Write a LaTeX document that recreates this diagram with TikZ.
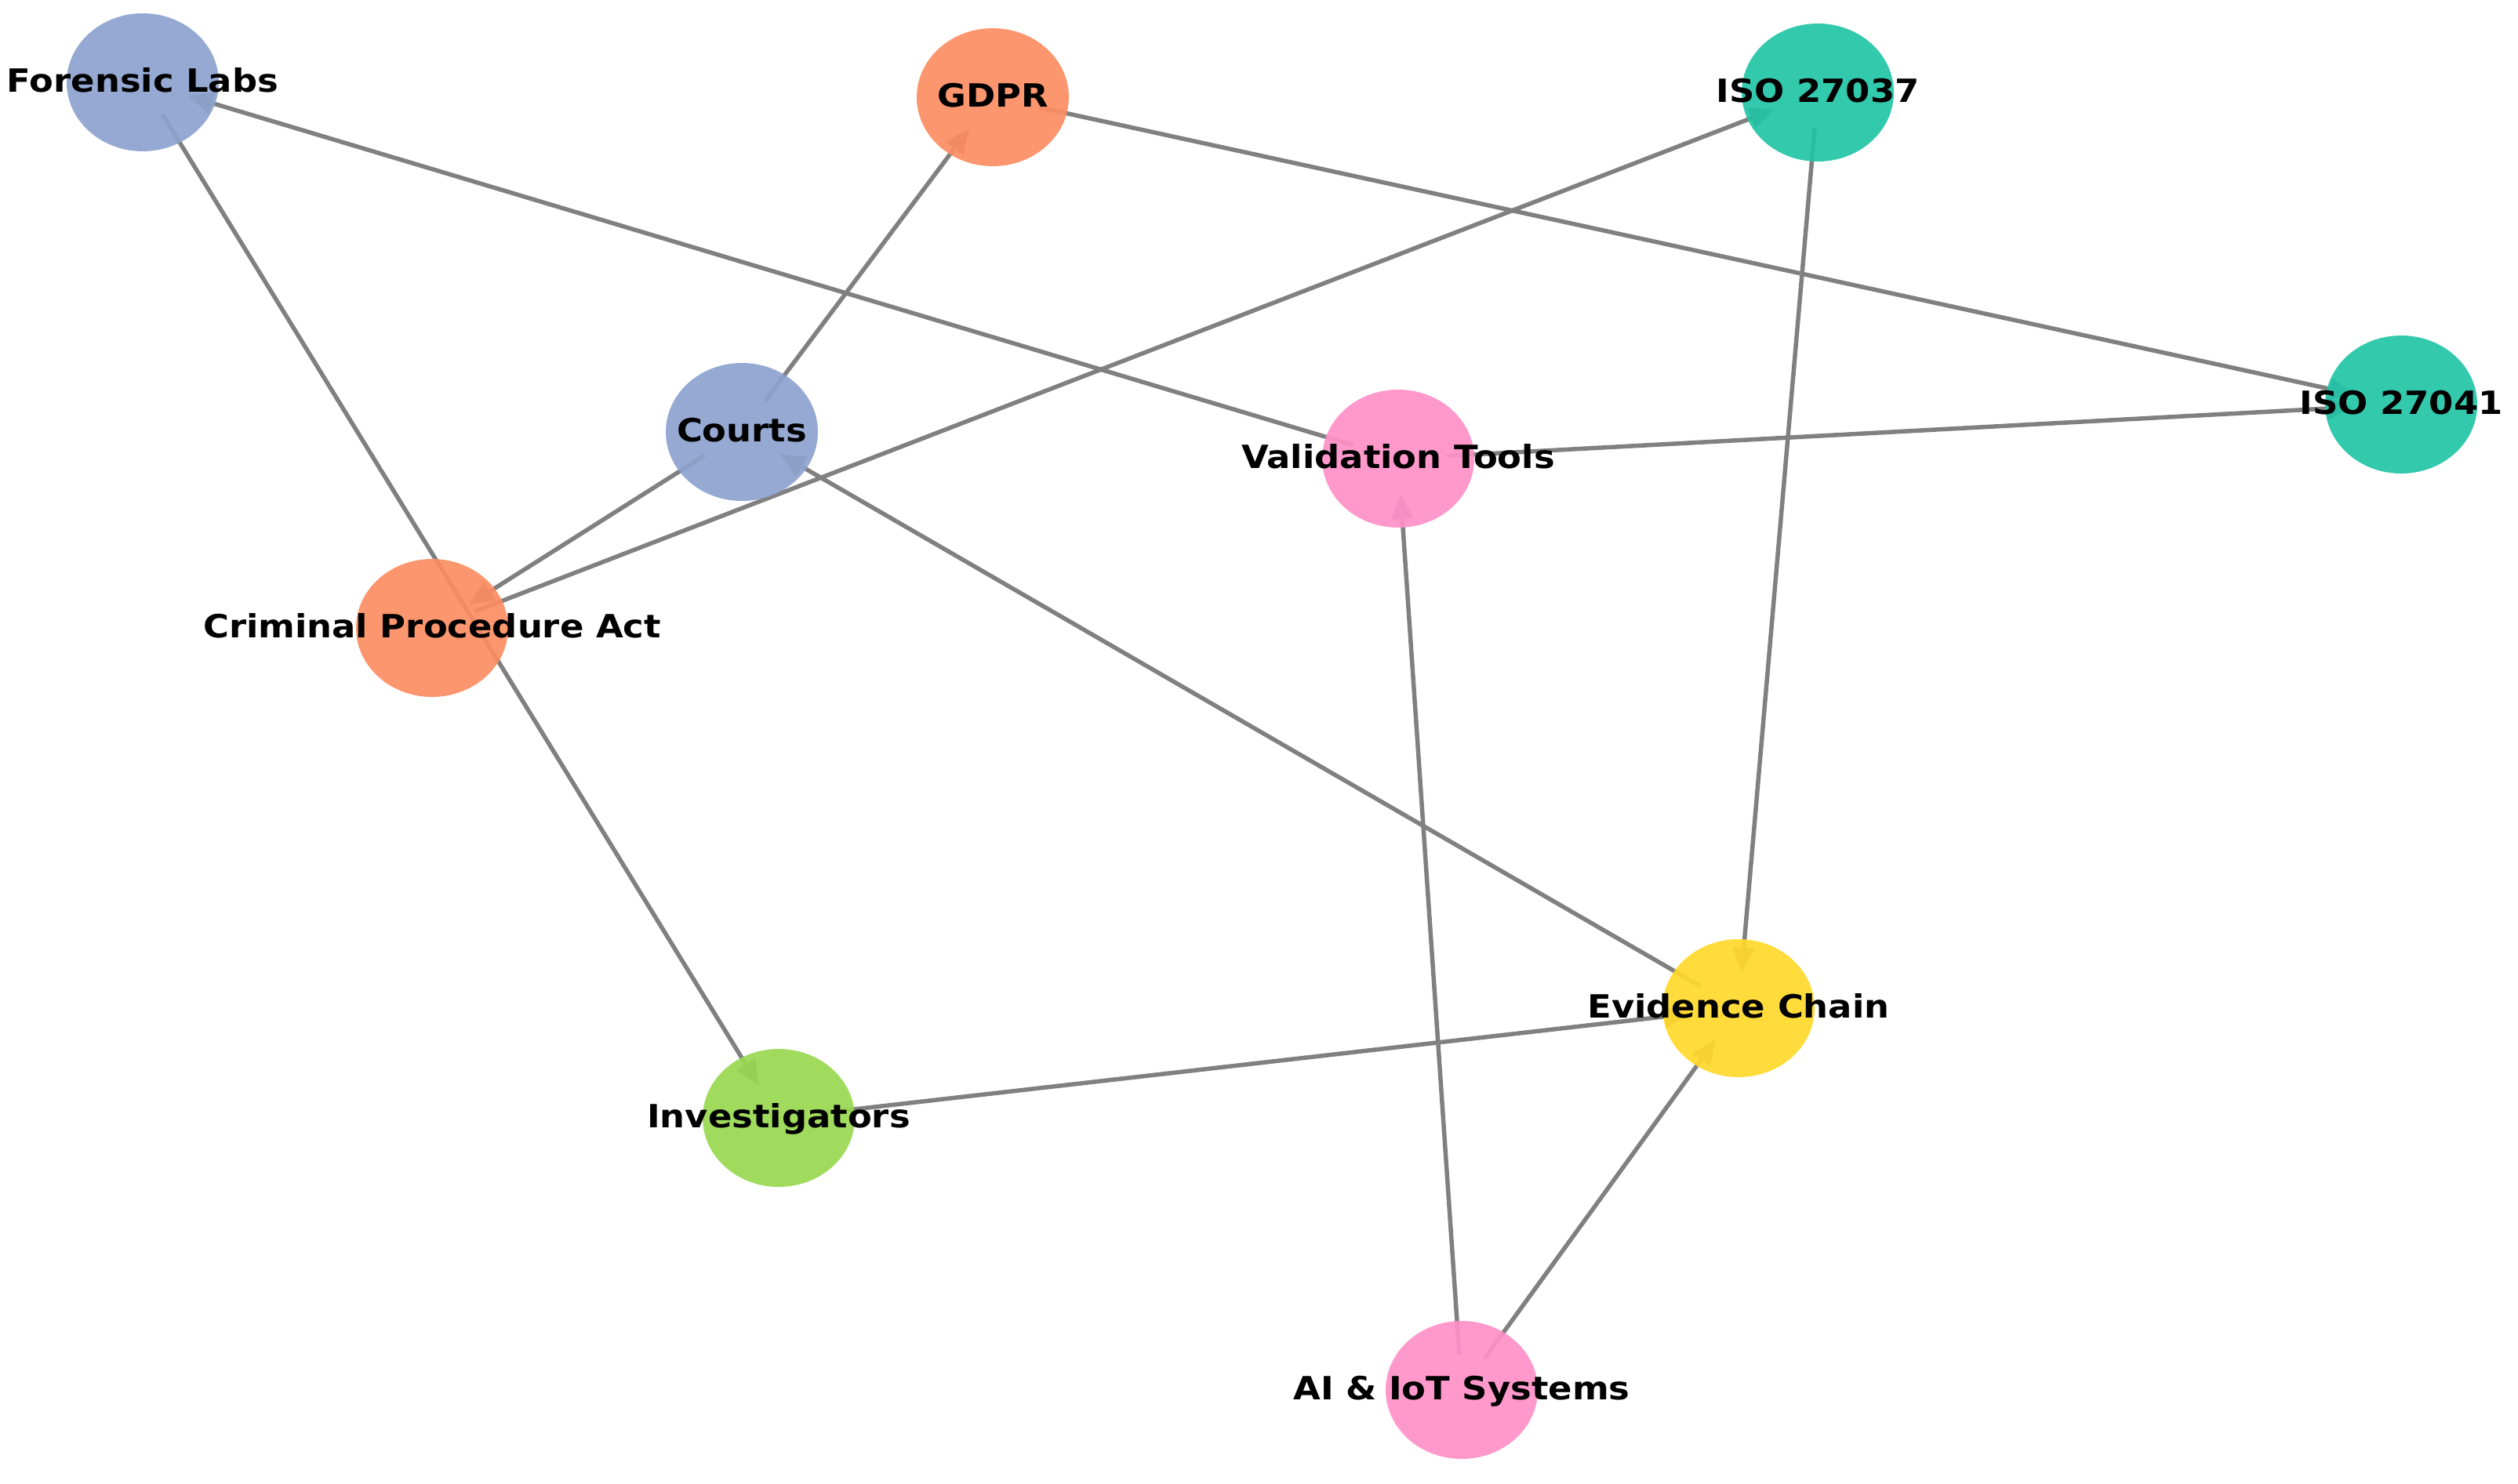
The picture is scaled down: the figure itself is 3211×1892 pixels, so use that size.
\documentclass[tikz,border=0pt]{standalone}
\usepackage{fontspec}
\newfontfamily\lblfont{DejaVu Sans}[FakeStretch=1.1]
\usetikzlibrary{shapes.geometric,arrows.meta}
\definecolor{cblue}{HTML}{8DA2CE}
\definecolor{corange}{HTML}{FC8D62}
\definecolor{cteal}{HTML}{22C4A6}
\definecolor{cpink}{HTML}{FF90C8}
\definecolor{cyellow}{HTML}{FFD92A}
\definecolor{cgreen}{HTML}{98D850}
\definecolor{edgegray}{HTML}{808080}
\tikzset{
  core/.style={ellipse, minimum width=124pt, minimum height=90pt, inner sep=0pt},
  nd/.style={ellipse, minimum width=194pt, minimum height=176pt, inner sep=0pt, draw=none, fill opacity=0.92},
  lbl/.style={font=\lblfont\bfseries\fontsize{40.8}{40.8}\selectfont, text height=29.5pt, text depth=0pt, inner sep=0pt, yshift=2pt},
  edge/.style={draw=edgegray, line width=5.5pt, -{Triangle[length=32pt,width=27pt]}},
}
\begin{document}
\begin{tikzpicture}[x=1pt,y=-1pt]
\useasboundingbox (0,0) rectangle (3211,1892);
% anchor cores (invisible)
\node[core] (fl) at (182,105) {};
\node[core] (gdpr) at (1266,124) {};
\node[core] (iso37) at (2318,118) {};
\node[core] (iso41) at (3062,516) {};
\node[core] (courts) at (946,551) {};
\node[core] (vt) at (1783,585) {};
\node[core] (cpa) at (551,801) {};
\node[core] (ec) at (2217,1286) {};
\node[core] (inv) at (993,1426) {};
\node[core] (ai) at (1864,1773) {};
% edges
\draw[edge] (vt) -- (fl);
\draw[edge] (fl) -- (inv);
\draw[edge] (courts) -- (gdpr);
\draw[edge] (courts) -- (cpa);
\draw[edge] (cpa) -- (iso37);
\draw[edge] (gdpr) -- (iso41);
\draw[edge] (vt) -- (iso41);
\draw[edge] (iso37) -- (ec);
\draw[edge] (ec) -- (courts);
\draw[edge] (inv) -- (ec);
\draw[edge] (ai) -- (ec);
\draw[edge] (ai) -- (vt);
% node discs
\node[nd, fill=cblue] (flD) at (fl) {};
\node[nd, fill=corange] (gdprD) at (gdpr) {};
\node[nd, fill=cteal] (iso37D) at (iso37) {};
\node[nd, fill=cteal] (iso41D) at (iso41) {};
\node[nd, fill=cblue] (courtsD) at (courts) {};
\node[nd, fill=cpink] (vtD) at (vt) {};
\node[nd, fill=corange] (cpaD) at (cpa) {};
\node[nd, fill=cyellow] (ecD) at (ec) {};
\node[nd, fill=cgreen] (invD) at (inv) {};
\node[nd, fill=cpink] (aiD) at (ai) {};
% labels
\node[lbl] (flL) at (fl) {Forensic Labs};
\node[lbl] (gdprL) at (gdpr) {GDPR};
\node[lbl] (iso37L) at (iso37) {ISO 27037};
\node[lbl] (iso41L) at (iso41) {ISO 27041};
\node[lbl] (courtsL) at (courts) {Courts};
\node[lbl] (vtL) at (vt) {Validation Tools};
\node[lbl] (cpaL) at (cpa) {Criminal Procedure Act};
\node[lbl] (ecL) at (ec) {Evidence Chain};
\node[lbl] (invL) at (inv) {Investigators};
\node[lbl] (aiL) at (ai) {AI \& IoT Systems};
\end{tikzpicture}
\end{document}
